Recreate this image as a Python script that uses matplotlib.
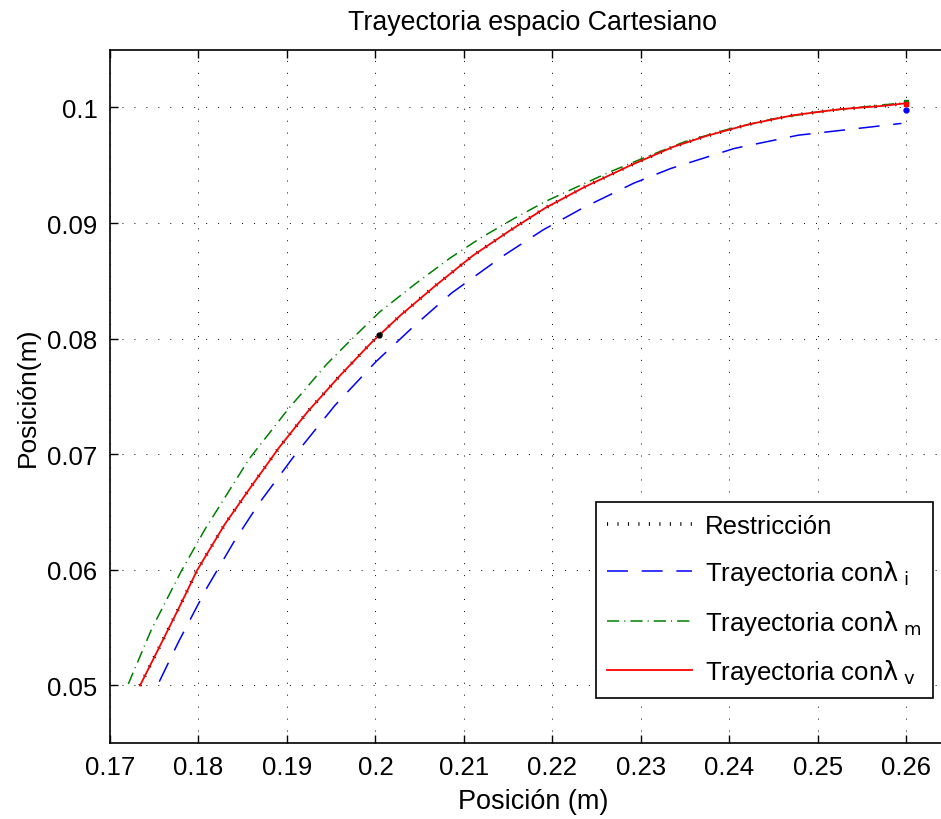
import numpy as np
import matplotlib
matplotlib.use("Agg")
import matplotlib.pyplot as plt

plt.rcParams['font.family'] = ['Liberation Sans', 'DejaVu Sans']
plt.rcParams['mathtext.fontset'] = 'dejavusans'

# trajectories (x, y in metres)
x_v = [0.17339, 0.17557, 0.17779, 0.17986, 0.18299, 0.18600, 0.18913, 0.19233, 0.19598, 0.19956,
       0.20276, 0.20671, 0.21097, 0.21519, 0.21922, 0.22366, 0.22886, 0.23364, 0.23741, 0.24230,
       0.24719, 0.25247, 0.25736, 0.26000]
y_v = [0.04997, 0.05329, 0.05669, 0.05997, 0.06395, 0.06725, 0.07059, 0.07367, 0.07679, 0.07967,
       0.08197, 0.08454, 0.08716, 0.08935, 0.09132, 0.09313, 0.09501, 0.09659, 0.09754, 0.09856,
       0.09933, 0.09985, 0.10014, 0.10037]

x_i = [0.17557, 0.17772, 0.18085, 0.18401, 0.18687, 0.19090, 0.19542, 0.20005, 0.20446, 0.20860,
       0.21443, 0.21895, 0.22340, 0.22919, 0.23337, 0.24053, 0.24776, 0.25605, 0.25943]
y_i = [0.05031, 0.05372, 0.05830, 0.06242, 0.06577, 0.06993, 0.07422, 0.07800, 0.08116, 0.08394,
       0.08716, 0.08941, 0.09129, 0.09345, 0.09472, 0.09645, 0.09760, 0.09832, 0.09862]

x_m = [0.17207, 0.17471, 0.17798, 0.18073, 0.18574, 0.19014, 0.19448, 0.19719, 0.20050, 0.20446,
       0.20841, 0.21180, 0.21568, 0.21922, 0.22290, 0.22656, 0.23025, 0.23500, 0.24000, 0.24500,
       0.25000, 0.25500, 0.26000]
y_m = [0.05011, 0.05487, 0.05977, 0.06349, 0.06961, 0.07390, 0.07778, 0.07986, 0.08232, 0.08471,
       0.08696, 0.08867, 0.09040, 0.09187, 0.09317, 0.09445, 0.09561, 0.09705, 0.09815, 0.09902,
       0.09962, 0.10004, 0.10043]

# restriction follows the red trajectory
x_r = x_v
y_r = y_v

punto_r = (0.2004, 0.0803)
fin_i = (0.2600, 0.0998)
fin_m = (0.2600, 0.1005)
fin_v = (0.2600, 0.1003)

xticks = [0.17, 0.18, 0.19, 0.2, 0.21, 0.22, 0.23, 0.24, 0.25, 0.26]
xlabels = ["0.17", "0.18", "0.19", "0.2", "0.21", "0.22", "0.23", "0.24", "0.25", "0.26"]
yticks = [0.05, 0.06, 0.07, 0.08, 0.09, 0.1]
ylabels = ["0.05", "0.06", "0.07", "0.08", "0.09", "0.1"]

fig = plt.figure(figsize=(9.41, 8.2), dpi=100)
ax = fig.add_axes([110 / 941, 76 / 820, 846 / 941, 693.3 / 820])

ax.plot(x_r, y_r, color="k", linewidth=2.6, dashes=(0.3, 2.6), label="Restricción")
ax.plot(x_i, y_i, color="#0000ff", linewidth=1.1, dashes=(13.7, 9),
        label=r"Trayectoria con$\mathrm{\lambda}_{\ \mathrm{i}}$")
ax.plot(x_m, y_m, color="#008000", linewidth=1.1, dashes=(8, 3.3, 0.7, 3.3),
        label=r"Trayectoria con$\mathrm{\lambda}_{\ \mathrm{m}}$")
ax.plot(x_v, y_v, color="#ff0000", linewidth=1.3,
        label=r"Trayectoria con$\mathrm{\lambda}_{\ \mathrm{v}}$")

ax.plot(*punto_r, "o", color="k", markersize=3.5)
ax.plot(*fin_i, "o", color="#0000ff", markersize=3.5)
ax.plot(*fin_m, "s", color="#008000", markersize=3.5)
ax.plot(*fin_v, "s", color="#ff0000", markersize=3)

ax.set_xlim(0.17, 0.2656)
ax.set_ylim(0.045, 0.105)
ax.set_xticks(xticks, xlabels)
ax.set_yticks(yticks, ylabels)
ax.tick_params(direction="in", length=6, width=1, top=True, right=True, labelsize=18.5, pad=9)
for s in ax.spines.values():
    s.set_linewidth(1.2)

ax.grid(True, color="k", linewidth=0.7, linestyle=(0, (1, 11.3)))

ax.set_title("Trayectoria espacio Cartesiano", fontsize=19.3, pad=15)
ax.set_xlabel("Posición (m)", fontsize=19.5, labelpad=6)
ax.set_ylabel("Posición(m)", fontsize=19, labelpad=5)

leg = ax.legend(loc="lower right", bbox_to_anchor=(0.973, 0.065), borderaxespad=0,
                fontsize=18.5, fancybox=False, framealpha=1, edgecolor="k",
                handlelength=3.3, labelspacing=0.8, borderpad=0.45, handletextpad=0.5)
leg.get_frame().set_linewidth(1.2)

fig.savefig("out.png", dpi=100)
